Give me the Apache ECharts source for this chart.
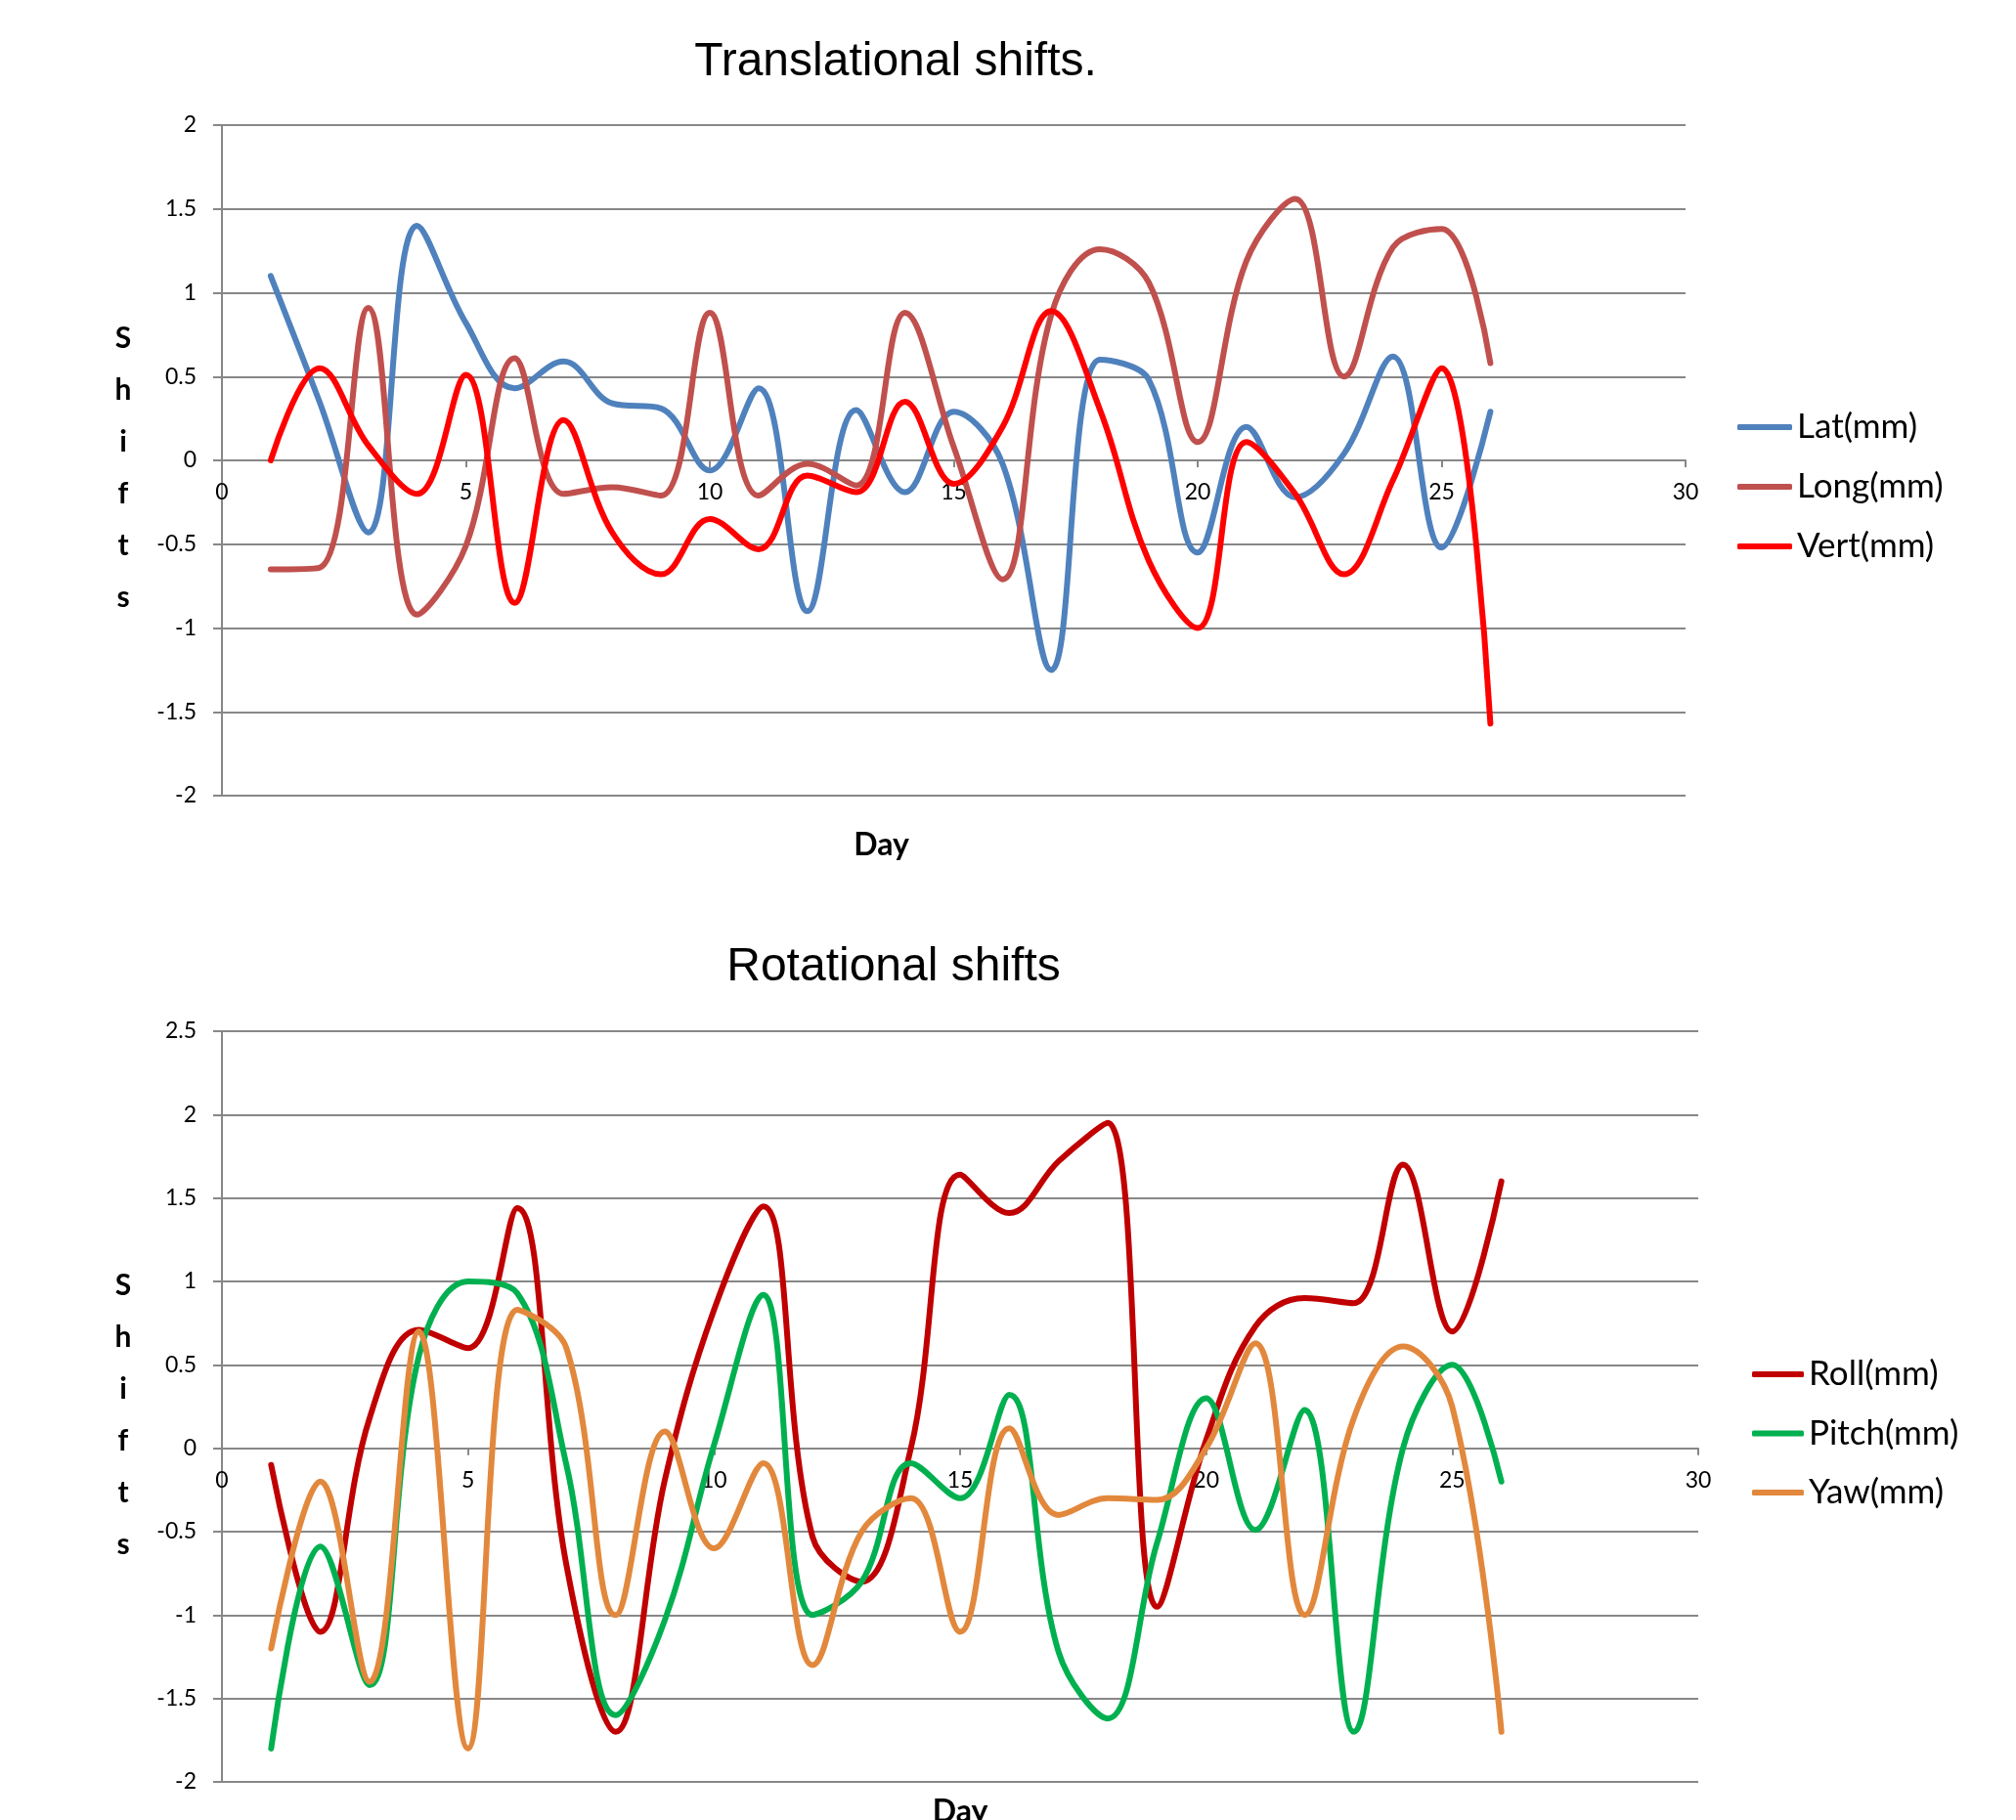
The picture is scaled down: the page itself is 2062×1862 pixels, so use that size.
<!DOCTYPE html>
<html>
<head>
<meta charset="utf-8">
<script src="https://cdn.jsdelivr.net/npm/echarts@6/dist/echarts.min.js"></script>
<style>
html,body{margin:0;padding:0;background:#fff;}
#chart{width:2062px;height:1862px;}
</style>
</head>
<body>
<div id="chart"></div>
<script>
// ---- data ----
const days = [1,2,3,4,5,6,7,8,9,10,11,12,13,14,15,16,17,18,19,20,21,22,23,24,25,26];

const lat  = [1.1, 0.35, -0.43, 1.4, 0.82, 0.43, 0.59, 0.34, 0.31, -0.06, 0.43, -0.9, 0.3, -0.19, 0.29, -0.02, -1.25, 0.6, 0.48, -0.55, 0.2, -0.22, 0.04, 0.62, -0.52, 0.29];
const long = [-0.65, -0.64, 0.91, -0.92, -0.51, 0.61, -0.2, -0.16, -0.21, 0.88, -0.21, -0.02, -0.15, 0.88, 0.08, -0.71, 0.87, 1.26, 1.06, 0.11, 1.19, 1.56, 0.5, 1.27, 1.38, 0.58];
const vert = [0.0, 0.55, 0.09, -0.2, 0.51, -0.85, 0.24, -0.43, -0.68, -0.35, -0.53, -0.09, -0.19, 0.35, -0.14, 0.2, 0.89, 0.3, -0.6, -1.0, 0.11, -0.2, -0.68, -0.12, 0.55, -1.57];

const roll  = [-0.1, -1.1, 0.18, 0.71, 0.6, 1.44, -0.7, -1.7, -0.19, 0.83, 1.45, -0.53, -0.8, 0.0, 1.64, 1.41, 1.72, 1.95, -0.95, 0.05, 0.73, 0.9, 0.87, 1.7, 0.7, 1.6];
const pitch = [-1.8, -0.59, -1.42, 0.55, 1.0, 0.93, -0.1, -1.6, -1.03, 0.02, 0.92, -1.0, -0.8, -0.09, -0.3, 0.32, -1.22, -1.62, -0.57, 0.3, -0.49, 0.23, -1.7, 0.0, 0.5, -0.2];
const yaw   = [-1.2, -0.2, -1.4, 0.7, -1.8, 0.83, 0.6, -1.0, 0.1, -0.6, -0.09, -1.3, -0.5, -0.3, -1.1, 0.12, -0.4, -0.3, -0.31, 0.0, 0.63, -1.0, 0.18, 0.61, 0.25, -1.7];

const transNames = ['Lat(mm)', 'Long(mm)', 'Vert(mm)'];
const rotNames   = ['Roll(mm)', 'Pitch(mm)', 'Yaw(mm)'];
const titles = ['Translational shifts.', 'Rotational shifts'];
const xTitle = 'Day';
const yTitle = 'Shifts';

// ---- layout ----
const grids = [
  {left: 227, top: 128, width: 1497, height: 686, ymin: -2, ymax: 2},
  {left: 227, top: 1055, width: 1510, height: 768, ymin: -2, ymax: 2.5}
];

// ---- build ----
const pairs = vals => days.map((d, i) => [d, vals[i]]);
const GRID = '#878787';
const SMOOTH = 0.38;

function xAxisFor(gi, nameGap, namePadRight) {
  const g = grids[gi];
  // x axis crosses the y axis at 0: shift it up from the grid bottom to the zero line
  const zeroOffset = -g.height * (0 - g.ymin) / (g.ymax - g.ymin);
  return {
    type: 'value', gridIndex: gi, min: 0, max: 30, interval: 5, position: 'bottom',
    offset: zeroOffset,
    name: xTitle, nameLocation: 'middle', nameGap: nameGap,
    nameTextStyle: {fontFamily: 'Lato', fontWeight: 'bold', fontSize: 32, color: '#000',
      verticalAlign: 'middle', padding: [0, namePadRight, 0, 0]},
    axisLine: {show: true, onZero: false, lineStyle: {color: GRID, width: 2}},
    axisTick: {show: true, length: 7, lineStyle: {color: GRID, width: 2}},
    axisLabel: {fontFamily: 'Lato', fontSize: 23, color: '#000', margin: 21},
    splitLine: {show: false}
  };
}
function yAxisFor(gi, spacer) {
  const g = grids[gi];
  return {
    type: 'value', gridIndex: gi, min: g.ymin, max: g.ymax, interval: 0.5,
    name: '{sp| }\n' + yTitle.split('').join('\n'), nameLocation: 'middle', nameGap: 101, nameRotate: 0,
    nameTextStyle: {fontFamily: 'Lato', fontWeight: 'bold', fontSize: 30, color: '#000',
      lineHeight: 53, align: 'center', verticalAlign: 'middle',
      rich: {sp: {fontSize: 2, lineHeight: spacer}}},
    axisLine: {show: true, onZero: false, lineStyle: {color: GRID, width: 2}},
    axisTick: {show: true, length: 9, lineStyle: {color: GRID, width: 2}},
    axisLabel: {fontFamily: 'Lato', fontSize: 23, color: '#000', margin: 26},
    splitLine: {show: true, lineStyle: {color: GRID, width: 2}}
  };
}
function line(name, vals, color, idx) {
  return {
    name: name, type: 'line', xAxisIndex: idx, yAxisIndex: idx,
    data: pairs(vals), smooth: SMOOTH, showSymbol: false, symbol: 'none',
    lineStyle: {color: color, width: 6, cap: 'round', join: 'round'},
    itemStyle: {color: color}
  };
}
function legendFor(names, left, top, iw, gap) {
  return {
    data: names, orient: 'vertical', left: left, top: top,
    icon: 'roundRect', itemWidth: iw, itemHeight: 6, itemGap: gap,
    textStyle: {fontFamily: 'Lato', fontSize: 35, color: '#000', lineHeight: 36}
  };
}

const option = {
  backgroundColor: '#fff',
  animation: false,
  title: [
    {text: titles[0], left: 911, top: 35, textAlign: 'center',
     textStyle: {fontFamily: 'Liberation Sans', fontWeight: 'normal', fontSize: 48, color: '#000'}},
    {text: titles[1], left: 909, top: 961, textAlign: 'center',
     textStyle: {fontFamily: 'Liberation Sans', fontWeight: 'normal', fontSize: 48, color: '#000'}}
  ],
  legend: [
    legendFor(transNames, 1772, 414, 56, 25),
    legendFor(rotNames, 1787, 1383, 53, 24.5)
  ],
  grid: grids.map(g => ({left: g.left, top: g.top, width: g.width, height: g.height,
                          containLabel: false, outerBoundsMode: 'none'})),
  xAxis: [xAxisFor(0, 394, 148), xAxisFor(1, 372, 0)],
  yAxis: [yAxisFor(0, 16), yAxisFor(1, 18)],
  series: [
    line(transNames[0], lat, '#4F81BD', 0),
    line(transNames[1], long, '#C0504D', 0),
    line(transNames[2], vert, '#FF0000', 0),
    line(rotNames[0], roll, '#C00000', 1),
    line(rotNames[1], pitch, '#00B050', 1),
    line(rotNames[2], yaw, '#E2883C', 1)
  ]
};

const chart = echarts.init(document.getElementById('chart'), null, {renderer: 'canvas'});
chart.setOption(option);
</script>
</body>
</html>
